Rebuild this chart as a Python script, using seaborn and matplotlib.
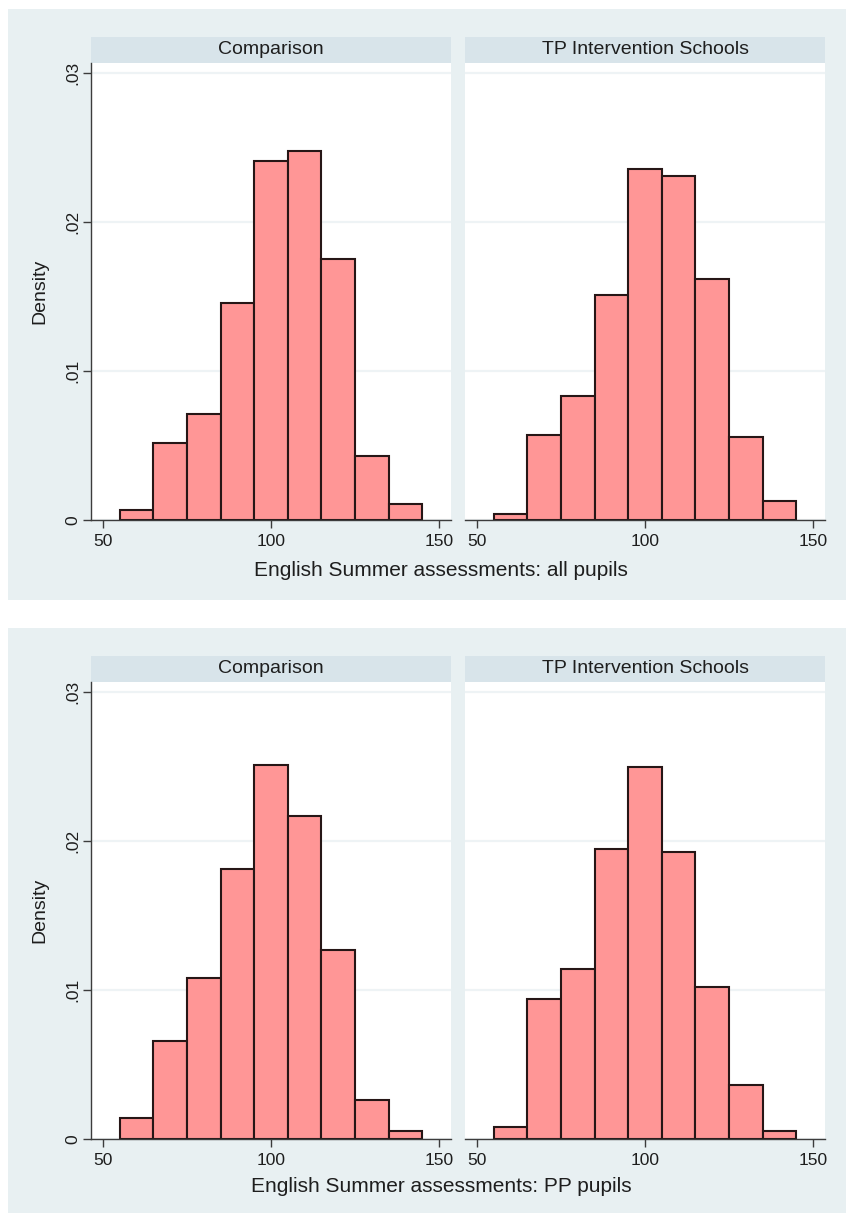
import numpy as np
import pandas as pd
import seaborn as sns
import matplotlib.pyplot as plt
from matplotlib.patches import Rectangle

# Histogram bins of the assessment score (width 10, from 55 to 145)
bin_edges = [55, 65, 75, 85, 95, 105, 115, 125, 135, 145]
bin_mids = [60, 70, 80, 90, 100, 110, 120, 130, 140]

# Densities per bin: all pupils
all_comparison = [0.0007, 0.0052, 0.0071, 0.0146, 0.0241, 0.0248, 0.0175, 0.0043, 0.0011]
all_tp_schools = [0.0004, 0.0057, 0.0083, 0.0151, 0.0236, 0.0231, 0.0162, 0.0056, 0.0013]

# Densities per bin: PP pupils
pp_comparison = [0.0014, 0.0066, 0.0108, 0.0181, 0.0251, 0.0217, 0.0127, 0.0026, 0.0005]
pp_tp_schools = [0.0008, 0.0094, 0.0114, 0.0195, 0.0250, 0.0193, 0.0102, 0.0036, 0.0005]

facet_titles = ["Comparison", "TP Intervention Schools"]
x_ticks = [50, 100, 150]
y_ticks = [0, 0.01, 0.02, 0.03]
y_tick_labels = ["0", ".01", ".02", ".03"]
x_titles = ["English Summer assessments: all pupils",
            "English Summer assessments: PP pupils"]

sns.set_theme(style="white")
plt.rcParams['font.family'] = ['Liberation Sans', 'DejaVu Sans']

BG = "#E8F0F2"
STRIP = "#D8E4EA"
GRID = "#EEF3F5"
AXIS = "#3C3C3C"
BAR = "#FF9696"
EDGE = "#261616"

W, H = 846, 1214
fig = plt.figure(figsize=(W / 100, H / 100), dpi=100)
fig.patch.set_facecolor("white")


def fx(px):
    return px / W


def fy(py):
    return 1 - py / H


def rect(x0, y0, x1, y1, color):
    fig.add_artist(Rectangle((fx(x0), fy(y1)), (x1 - x0) / W, (y1 - y0) / H,
                             transform=fig.transFigure, facecolor=color,
                             edgecolor="none", zorder=0))


def add_ax(x0, y0, x1, y1):
    return fig.add_axes([fx(x0), fy(y1), (x1 - x0) / W, (y1 - y0) / H])


panels = [
    dict(top=9, bottom=600, strip=(37, 63), plot=(63, 520), xlab_y=570,
         series=[all_comparison, all_tp_schools], xlabel=x_titles[0]),
    dict(top=628, bottom=1213, strip=(656, 682), plot=(682, 1138.7), xlab_y=1187,
         series=[pp_comparison, pp_tp_schools], xlabel=x_titles[1]),
]
facet_x = [(91, 451), (465, 825)]

for p in panels:
    rect(8, p["top"], 846, p["bottom"], BG)
    for i, (vals, (x0, x1)) in enumerate(zip(p["series"], facet_x)):
        y0, y1 = p["plot"]
        # strip header
        rect(x0, p["strip"][0], x1, p["strip"][1], STRIP)
        fig.text(fx((x0 + x1) / 2), fy((p["strip"][0] + p["strip"][1]) / 2 - 0.5),
                 facet_titles[i], ha="center", va="center", fontsize=14,
                 color="#1E1E1E")
        ax = add_ax(x0, y0, x1, y1)
        ax.set_facecolor("white")
        df = pd.DataFrame({"score": bin_mids, "density": vals})
        sns.histplot(data=df, x="score", weights="density", bins=bin_edges,
                     stat="count", ax=ax, color=BAR, alpha=1,
                     edgecolor=EDGE, linewidth=1.5)
        ax.set_xlim(46.4, 153.6)
        ax.set_ylim(0, 0.0307)
        ax.set_xticks(x_ticks)
        ax.set_xticklabels([str(t) for t in x_ticks])
        ax.set_yticks(y_ticks)
        ax.set_yticklabels(y_tick_labels, rotation=90, va="center")
        ax.set_xlabel("")
        ax.set_ylabel("")
        ax.yaxis.grid(True, color=GRID, linewidth=1.6)
        ax.xaxis.grid(False)
        ax.set_axisbelow(True)
        for s in ["top", "right"]:
            ax.spines[s].set_visible(False)
        ax.spines["bottom"].set_color(AXIS)
        ax.spines["bottom"].set_linewidth(1.0)
        ax.tick_params(axis="x", bottom=True, length=6, width=1.0, color=AXIS,
                       labelsize=12.5, labelcolor="#1E1E1E", pad=4)
        if i == 0:
            ax.spines["left"].set_color(AXIS)
            ax.spines["left"].set_linewidth(1.0)
            ax.tick_params(axis="y", left=True, length=6, width=1.0, color=AXIS,
                           labelsize=12.5, labelcolor="#1E1E1E", pad=2)
        else:
            ax.spines["left"].set_visible(False)
            ax.tick_params(axis="y", left=False, labelleft=False)
    fig.text(fx(441), fy(p["xlab_y"]), p["xlabel"], ha="center", va="center",
             fontsize=15, color="#1E1E1E")
    fig.text(fx(40), fy((p["plot"][0] + p["plot"][1]) / 2), "Density",
             rotation=90, ha="center", va="center", fontsize=14, color="#1E1E1E")

fig.savefig("out.png", dpi=100, facecolor="white")
